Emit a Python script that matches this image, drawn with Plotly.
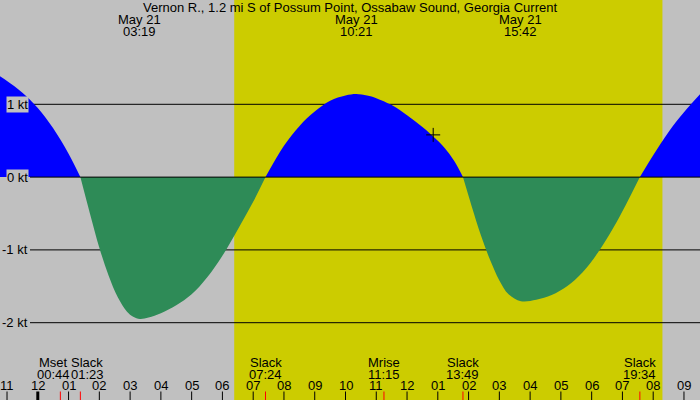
import plotly.graph_objects as go

# ---------------- data ----------------
title_text = "Vernon R., 1.2 mi S of Possum Point, Ossabaw Sound, Georgia Current"

# hours from midnight May 21, current speed in knots
current_hours = [-1.25, -1.0, -0.5, 0.0, 0.5, 1.0, 1.383,
                 1.7, 2.0, 2.3, 2.6, 2.9, 3.1, 3.32, 3.6, 4.0, 4.5, 5.0, 5.5, 6.0, 6.5, 7.0, 7.4,
                 8.0, 8.5, 9.0, 9.5, 10.0, 10.35, 10.7, 11.0, 11.5, 12.0, 12.5, 13.0, 13.3, 13.55, 13.817,
                 14.1, 14.4, 14.7, 15.0, 15.3, 15.7, 16.2, 16.7, 17.2, 17.7, 18.2, 18.7, 19.1, 19.567,
                 20.0, 20.5, 21.0, 21.55]
current_kt = [1.39, 1.32, 1.16, 0.95, 0.67, 0.32, 0.0,
              -0.51, -0.97, -1.35, -1.65, -1.85, -1.92, -1.95, -1.93, -1.87, -1.76, -1.61, -1.38, -1.08, -0.72, -0.34, 0.0,
              0.43, 0.70, 0.90, 1.05, 1.12, 1.14, 1.12, 1.085, 0.99, 0.85, 0.69, 0.50, 0.36, 0.21, 0.0,
              -0.40, -0.80, -1.14, -1.42, -1.61, -1.705, -1.685, -1.62, -1.50, -1.31, -1.04, -0.70, -0.39, 0.0,
              0.30, 0.62, 0.89, 1.15]

extreme_dates = ["May 21", "May 21", "May 21"]
extreme_times = ["03:19", "10:21", "15:42"]

event_names = ["Mset", "Slack", "Slack", "Mrise", "Slack", "Slack"]
event_times = ["00:44", "01:23", "07:24", "11:15", "13:49", "19:34"]

sunrise = "06:23"
sunset = "20:18"

marker_hour = [12.85]
marker_kt = [0.58]

hour_ticks = list(range(-1, 22))
hour_labels = ["11", "12", "01", "02", "03", "04", "05", "06", "07", "08", "09", "10",
               "11", "12", "01", "02", "03", "04", "05", "06", "07", "08", "09"]

kt_levels = [1, 0, -1, -2]
kt_labels = ["1 kt", "0 kt", "-1 kt", "-2 kt"]

# ---------------- helpers ----------------
W, H = 700, 400
X_MIN, X_MAX = -1.2285, 21.521
Y_MIN, Y_MAX = -3.062, 2.433
FONT = "Liberation Sans, Arial, sans-serif"
GRAY = "#c0c0c0"
YELLOW = "#cccc00"
BLUE = "#0000ff"
GREEN = "#2e8b57"


def hm(s):
    h, m = s.split(":")
    return int(h) + int(m) / 60.0


def px(t):
    return (t - X_MIN) / (X_MAX - X_MIN) * W


def py(ypix):
    return 1 - ypix / H


fig = go.Figure()

# split the curve into lobes at slack (zero) points
segments = []
cur_x, cur_y = [], []
for x, y in zip(current_hours, current_kt):
    cur_x.append(x)
    cur_y.append(y)
    if y == 0 and len(cur_x) > 1:
        segments.append((cur_x, cur_y))
        cur_x, cur_y = [x], [y]
if len(cur_x) > 1:
    segments.append((cur_x, cur_y))

for sx, sy in segments:
    positive = sum(sy) > 0
    col = BLUE if positive else GREEN
    fig.add_trace(go.Scatter(
        x=sx, y=sy, mode="lines", line=dict(width=0, color=col, shape="spline", smoothing=1.0),
        fill="tozeroy", fillcolor=col, hoverinfo="skip", showlegend=False))

fig.add_trace(go.Scatter(
    x=marker_hour, y=marker_kt, mode="markers",
    marker=dict(symbol="cross-thin", size=10, line=dict(width=1, color="black")),
    hoverinfo="skip", showlegend=False))

shapes = []
# daylight
shapes.append(dict(type="rect", xref="x", yref="paper", x0=hm(sunrise), x1=hm(sunset),
                   y0=0, y1=1, fillcolor=YELLOW, line=dict(width=0), layer="below"))
# grid lines
for lv in kt_levels:
    shapes.append(dict(type="line", xref="paper", yref="y", x0=30 / W, x1=1, y0=lv, y1=lv,
                       line=dict(color="black", width=1), layer="above" if lv == 0 else "below"))
# hour ticks
for h in hour_ticks:
    shapes.append(dict(type="line", xref="x", yref="paper", x0=h, x1=h, y0=0, y1=8.5 / H,
                       line=dict(color="black", width=3 if h == 0 else 1), layer="above"))
# event ticks
for t in event_times:
    shapes.append(dict(type="line", xref="x", yref="paper", x0=hm(t), x1=hm(t), y0=0, y1=8.5 / H,
                       line=dict(color="red", width=1), layer="above"))

ann = []
ann.append(dict(text=title_text, xref="paper", yref="paper", x=0.5, y=py(7.5),
                xanchor="center", yanchor="middle", showarrow=False))
for d, t in zip(extreme_dates, extreme_times):
    ann.append(dict(text=d, xref="x", yref="paper", x=hm(t), y=py(19.5),
                    xanchor="center", yanchor="middle", showarrow=False))
    ann.append(dict(text=t, xref="x", yref="paper", x=hm(t), y=py(31.5),
                    xanchor="center", yanchor="middle", showarrow=False))

# event labels with overlap avoidance
ev_px = [px(hm(t)) for t in event_times]
shifts = [0.0] * len(ev_px)
min_gap = 34
for i in range(1, len(ev_px)):
    gap = ev_px[i] - ev_px[i - 1]
    if gap < min_gap:
        need = (min_gap - gap) / 2
        shifts[i - 1] -= need
        shifts[i] += need
for n, t, s in zip(event_names, event_times, shifts):
    ann.append(dict(text=n, xref="x", yref="paper", x=hm(t), y=py(362), xshift=s,
                    xanchor="center", yanchor="middle", showarrow=False))
    ann.append(dict(text=t, xref="x", yref="paper", x=hm(t), y=py(374), xshift=s,
                    xanchor="center", yanchor="middle", showarrow=False))

for h, lab in zip(hour_ticks, hour_labels):
    ann.append(dict(text=lab, xref="x", yref="paper", x=h, y=py(385.5),
                    xanchor="center", yanchor="middle", showarrow=False))

for lv, lab in zip(kt_levels, kt_labels):
    ann.append(dict(text=lab, xref="paper", yref="y", x=28.5 / W, y=lv,
                    xanchor="right", yanchor="middle", showarrow=False,
                    bgcolor=GRAY, borderpad=0))

fig.update_layout(
    width=W, height=H,
    margin=dict(l=0, r=0, t=0, b=0, pad=0),
    paper_bgcolor=GRAY, plot_bgcolor=GRAY,
    font=dict(family=FONT, size=13, color="black"),
    xaxis=dict(range=[X_MIN, X_MAX], visible=False, showgrid=False, zeroline=False, fixedrange=True),
    yaxis=dict(range=[Y_MIN, Y_MAX], visible=False, showgrid=False, zeroline=False, fixedrange=True),
    shapes=shapes, annotations=ann, showlegend=False,
)

fig.write_html(
    "out.html",
    config={"displayModeBar": False},
    post_script="document.body.style.margin='0';document.body.style.padding='0';"
                "document.body.style.overflow='hidden';",
)
